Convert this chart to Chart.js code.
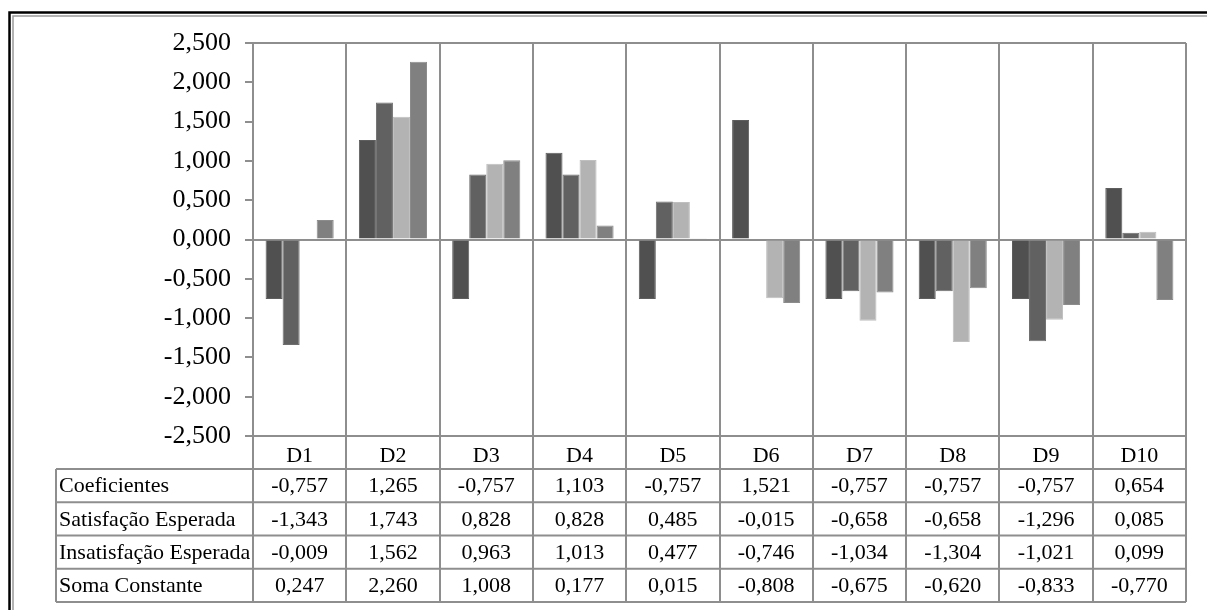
<!DOCTYPE html>
<html>
<head>
<meta charset="utf-8">
<script src="https://cdn.jsdelivr.net/npm/chart.js@4/dist/chart.umd.min.js"></script>
<style>
  html, body { margin: 0; padding: 0; background: #fff; }
  canvas { display: block; }
</style>
</head>
<body>
<canvas id="c" width="1207" height="610"></canvas>
<script>
// Dimensions (categories) and the four series shown as bars and in the table
const categories = ['D1', 'D2', 'D3', 'D4', 'D5', 'D6', 'D7', 'D8', 'D9', 'D10'];
const seriesNames = ['Coeficientes', 'Satisfação Esperada', 'Insatisfação Esperada', 'Soma Constante'];
const coeficientes = [-0.757, 1.265, -0.757, 1.103, -0.757, 1.521, -0.757, -0.757, -0.757, 0.654];
const satisfacao   = [-1.343, 1.743, 0.828, 0.828, 0.485, -0.015, -0.658, -0.658, -1.296, 0.085];
const insatisfacao = [-0.009, 1.562, 0.963, 1.013, 0.477, -0.746, -1.034, -1.304, -1.021, 0.099];
const somaConst    = [0.247, 2.260, 1.008, 0.177, 0.015, -0.808, -0.675, -0.620, -0.833, -0.770];
const yTicks = [-2.5, -2.0, -1.5, -1.0, -0.5, 0, 0.5, 1.0, 1.5, 2.0, 2.5];

const seriesValues = [coeficientes, satisfacao, insatisfacao, somaConst];
const fills   = ['#505050', '#616161', '#b3b3b3', '#808080'];
const borders = ['#5e5e5e', '#6e6e6e', '#bfbfbf', '#8c8c8c'];

const SERIF = '"Liberation Serif", "Times New Roman", serif';
const LINE = '#8e8e8e';
const fmt = v => v.toFixed(3).replace('.', ',');

// Data table under the category axis plus the cell grid
const tablePlugin = {
  id: 'dataTable',
  beforeDraw(chart) {
    const ctx = chart.ctx;
    ctx.save();
    ctx.fillStyle = '#fff';
    ctx.fillRect(0, 0, chart.width, chart.height);
    // outer frame (black + grey double edge)
    ctx.strokeStyle = '#000';
    ctx.lineWidth = 2.5;
    ctx.beginPath();
    ctx.moveTo(9.5, chart.height);
    ctx.lineTo(9.5, 12.5);
    ctx.lineTo(chart.width, 12.5);
    ctx.stroke();
    ctx.strokeStyle = '#9a9a9a';
    ctx.lineWidth = 1.5;
    ctx.beginPath();
    ctx.moveTo(13, chart.height);
    ctx.lineTo(13, 16);
    ctx.lineTo(chart.width, 16);
    ctx.stroke();
    ctx.restore();
  },
  beforeDatasetsDraw(chart) {
    const ctx = chart.ctx;
    const x = chart.scales.x;
    const a = chart.chartArea;
    const n = categories.length;
    const colW = (a.right - a.left) / n;
    const headerBottom = a.bottom + 33;
    const rowH = 33.25;
    const tableBottom = headerBottom + rowH * seriesNames.length;
    const tableLeft = 56;

    ctx.save();
    ctx.strokeStyle = LINE;
    ctx.lineWidth = 2;
    ctx.beginPath();
    // column boundaries running from plot top through the table
    for (let i = 0; i <= n; i++) {
      const px = Math.round(a.left + i * colW);
      ctx.moveTo(px, a.top);
      ctx.lineTo(px, tableBottom);
    }
    // plot top and bottom edges
    ctx.moveTo(a.left - 8, a.top);
    ctx.lineTo(a.right, a.top);
    ctx.moveTo(a.left - 8, a.bottom);
    ctx.lineTo(a.right, a.bottom);
    // table rows
    for (let r = 0; r <= seriesNames.length; r++) {
      const py = headerBottom + r * rowH;
      ctx.moveTo(tableLeft, py);
      ctx.lineTo(a.right, py);
    }
    ctx.moveTo(tableLeft, headerBottom);
    ctx.lineTo(tableLeft, tableBottom);
    ctx.stroke();

    // category labels and cell values
    ctx.fillStyle = '#000';
    ctx.font = '22px ' + SERIF;
    ctx.textBaseline = 'middle';
    ctx.textAlign = 'center';
    categories.forEach((c, i) => {
      ctx.fillText(c, x.getPixelForValue(i), a.bottom + 20);
    });
    seriesNames.forEach((name, r) => {
      const cy = headerBottom + r * rowH + rowH / 2 + 1;
      ctx.textAlign = 'left';
      ctx.fillText(name, 59, cy);
      ctx.textAlign = 'center';
      seriesValues[r].forEach((v, i) => {
        ctx.fillText(fmt(v), x.getPixelForValue(i), cy);
      });
    });
    ctx.restore();
  }
};

new Chart(document.getElementById('c'), {
  type: 'bar',
  data: {
    labels: categories,
    datasets: seriesNames.map((name, k) => ({
      label: name,
      data: seriesValues[k],
      backgroundColor: fills[k],
      borderColor: borders[k],
      borderWidth: 1,
      categoryPercentage: 0.73,
      barPercentage: 1.0
    }))
  },
  options: {
    responsive: false,
    animation: false,
    layout: { padding: { top: 43, right: 21, left: 0, bottom: 0 } },
    plugins: { legend: { display: false }, tooltip: { enabled: false } },
    scales: {
      x: {
        grid: { display: false },
        border: { display: false },
        ticks: { display: false },
        afterFit(s) { s.height = 174; }
      },
      y: {
        min: -2.5,
        max: 2.5,
        afterBuildTicks(s) { s.ticks = yTicks.map(v => ({ value: v })); },
        ticks: {
          callback: v => fmt(v),
          color: '#000',
          font: { family: SERIF, size: 26 },
          padding: 14
        },
        grid: {
          color: c => (c.tick && c.tick.value === 0 ? LINE : 'rgba(0,0,0,0)'),
          lineWidth: 2,
          tickLength: 8,
          tickColor: LINE
        },
        border: { display: true, color: LINE, width: 2 },
        afterFit(s) { s.width = 253; }
      }
    }
  },
  plugins: [tablePlugin]
});
</script>
</body>
</html>
